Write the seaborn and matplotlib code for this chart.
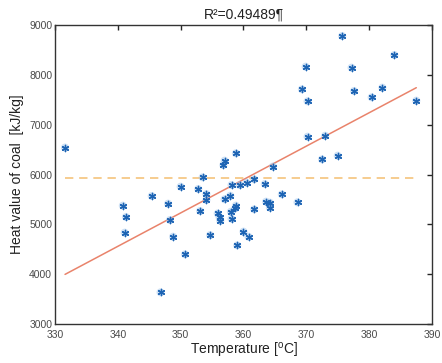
import numpy as np
import pandas as pd
import matplotlib
matplotlib.use("Agg")
import matplotlib.pyplot as plt
import seaborn as sns

# Data
temperature = [331.6, 340.8, 341.3, 341.1, 345.4, 350.0, 348.0, 348.3, 348.8, 350.7,
               346.8, 353.5, 352.8, 354.1, 354.1, 353.1, 354.7, 356.8, 357.0, 358.8,
               355.9, 356.2, 356.3, 357.0, 357.9, 358.1, 358.0, 358.1, 358.7, 358.8,
               359.0, 360.0, 360.8, 359.4, 360.5, 361.7, 361.7, 363.4, 364.7, 363.6,
               364.2, 364.2, 366.1, 368.6, 375.7, 369.9, 377.2, 384.0, 369.3, 370.2,
               377.6, 380.4, 382.1, 387.5, 370.2, 373.0, 372.5, 375.0]
heat_value = [6540, 5374, 5147, 4832, 5568, 5755, 5414, 5086, 4751, 4398,
              3635, 5943, 5709, 5608, 5488, 5267, 4785, 6190, 6277, 6425,
              5218, 5140, 5073, 5502, 5574, 5789, 5253, 5113, 5321, 5374,
              4578, 4853, 4751, 5789, 5835, 5903, 5301, 5809, 6160, 5454,
              5434, 5334, 5602, 5442, 8779, 8163, 8143, 8398, 7710, 7469,
              7675, 7549, 7742, 7481, 6758, 6778, 6304, 6377]
fit_temps = [331.6, 387.5]
fit_heat = [3996, 7742]
mean_heat = 5920
title_text = "R\u00b2=0.49489\u00b6"
x_ticks = [330, 340, 350, 360, 370, 380, 390]
y_ticks = [3000, 4000, 5000, 6000, 7000, 8000, 9000]

df = pd.DataFrame({"T": temperature, "H": heat_value})
fit_df = pd.DataFrame({"T": fit_temps, "H": fit_heat})
mean_df = pd.DataFrame({"T": fit_temps, "H": [mean_heat, mean_heat]})

sns.set_theme(style="white")
plt.rcParams['font.family'] = ['Liberation Sans', 'DejaVu Sans']
plt.rcParams['mathtext.fontset'] = 'custom'
plt.rcParams['mathtext.rm'] = 'Liberation Sans'

fig = plt.figure(figsize=(4.42, 3.63), dpi=100)
ax = fig.add_axes([0.1244, 0.1074, 0.853, 0.8237])

sns.lineplot(data=mean_df, x="T", y="H", ax=ax, color="#f5c47c", linewidth=1.2,
             linestyle=(0, (5, 3.5)), zorder=1)
sns.lineplot(data=fit_df, x="T", y="H", ax=ax, color="#e9836b", linewidth=1.1, zorder=2)
sns.scatterplot(data=df, x="T", y="H", ax=ax, marker="o", s=34, color="#9cc2ea",
                edgecolor="none", alpha=0.5, zorder=3)
sns.scatterplot(data=df, x="T", y="H", ax=ax, marker=(6, 2, 0), s=20, color="#1d64b4",
                linewidth=1.0, zorder=4)

ax.set_xlim(330, 390)
ax.set_ylim(3000, 9000)
ax.set_xticks(x_ticks)
ax.set_yticks(y_ticks)
ax.tick_params(direction="in", length=3.5, width=1, colors="#262626", labelsize=7.5,
               top=True, right=True, labelcolor="#4a4a4a")
ax.tick_params(axis="x", pad=4)
ax.tick_params(axis="y", pad=2)
for s in ax.spines.values():
    s.set_color("#333333")
    s.set_linewidth(1.0)
ax.set_xlabel("Temperature [$^{\\mathrm{o}}$C]", fontsize=10, color="#222222", labelpad=1)
ax.set_ylabel("Heat value of coal  [kJ/kg]", fontsize=10, color="#222222", labelpad=4)
ax.set_title(title_text, fontsize=10, color="#222222", pad=5)

fig.savefig("out.png", dpi=100)
